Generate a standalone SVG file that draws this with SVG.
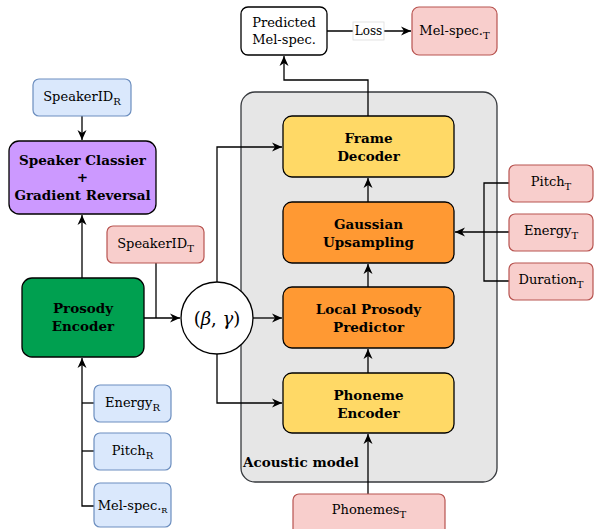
<svg xmlns="http://www.w3.org/2000/svg" width="594" height="529" viewBox="0 0 594 529">
<defs>
<marker id="ah" markerUnits="userSpaceOnUse" markerWidth="11" markerHeight="10" refX="10" refY="5" orient="auto">
<path d="M0,0.5 L10,5 L0,9.5 L3,5 z" fill="#000"/>
</marker>
<style>
.t{font-family:"DejaVu Serif","Liberation Serif",serif;font-size:13px;fill:#000;text-anchor:middle}
.b{font-family:"DejaVu Serif","Liberation Serif",serif;font-size:13.5px;font-weight:bold;fill:#000;text-anchor:middle}
.blue{fill:#dae8fc;stroke:#6c8ebf;stroke-width:1.2}
.red{fill:#f8cecc;stroke:#b85450;stroke-width:1.2}
.nd{stroke:#000;stroke-width:1.3}
.ln{fill:none;stroke:#000;stroke-width:1.3}
.ar{fill:none;stroke:#000;stroke-width:1.3;marker-end:url(#ah)}
</style>
</defs>
<rect width="594" height="529" fill="#fff"/>
<g id="acoustic-model">
<rect x="241" y="92" width="256" height="390" rx="14" fill="#e6e6e6" stroke="#36393d" stroke-width="1.3"/>
<text class="b" x="243" y="467" style="text-anchor:start">Acoustic model</text>
</g>
<g id="connectors">
<path class="ar" d="M368,116 V80 H284 V56"/>
<path class="ar" d="M327,31 H411"/>
<path class="ar" d="M82,116 V140"/>
<path class="ar" d="M82,278 V215"/>
<path class="ar" d="M144,318 H180"/>
<path class="ln" d="M156,263 V318"/>
<path class="ar" d="M253,318 H282"/>
<path class="ar" d="M217,282 V147 H282"/>
<path class="ar" d="M217,354 V403 H282"/>
<path class="ar" d="M368,373 V349"/>
<path class="ar" d="M368,287 V264"/>
<path class="ar" d="M368,202 V178"/>
<path class="ar" d="M368,494 V434"/>
<path class="ar" d="M509,232 H455"/>
<path class="ln" d="M509,183 H484 V281 H509"/>
<path class="ar" d="M94,506 H82 V358"/>
<path class="ln" d="M94,403 H82"/>
<path class="ln" d="M94,451 H82"/>
</g>
<g id="loss-label">
<rect x="353" y="22" width="31" height="18" fill="#fff" stroke="#ddd" stroke-width="0.8"/>
<text class="t" x="368.5" y="35" style="font-size:12px">Loss</text>
</g>
<g id="predicted-mel">
<rect x="241" y="7" width="86" height="48" rx="7" fill="#fff" class="nd"/>
<text class="t" x="284" y="27">Predicted</text>
<text class="t" x="284" y="44">Mel-spec.</text>
</g>
<g id="mel-spec-t">
<rect x="412" y="7" width="85" height="48" rx="7" class="red"/>
<text class="t" x="454.5" y="35">Mel-spec.<tspan font-size="10" dy="3.5">T</tspan></text>
</g>
<g id="speakerid-r">
<rect x="33" y="79" width="98" height="37" rx="6" class="blue"/>
<text class="t" x="82" y="101">SpeakerID<tspan font-size="10" dy="3.5">R</tspan></text>
</g>
<g id="speaker-classifier">
<rect x="9" y="141" width="147" height="73" rx="10" fill="#cc99ff" class="nd"/>
<text class="b" x="82.5" y="165">Speaker Classier</text>
<text class="b" x="82.5" y="182">+</text>
<text class="b" x="82.5" y="200">Gradient Reversal</text>
</g>
<g id="speakerid-t">
<rect x="107" y="226" width="97" height="37" rx="6" class="red"/>
<text class="t" x="155.5" y="248">SpeakerID<tspan font-size="10" dy="3.5">T</tspan></text>
</g>
<g id="prosody-encoder">
<rect x="22" y="278" width="122" height="79" rx="10" fill="#00a050" class="nd"/>
<text class="b" x="83" y="313">Prosody</text>
<text class="b" x="83" y="331">Encoder</text>
</g>
<g id="film">
<circle cx="217" cy="318" r="36" fill="#fff" class="nd"/>
<text x="217" y="325" style="font-family:'DejaVu Serif',serif;font-size:18px;text-anchor:middle">(<tspan font-style="italic">β</tspan>, <tspan font-style="italic">γ</tspan>)</text>
</g>
<g id="frame-decoder">
<rect x="283" y="116" width="171" height="61" rx="9" fill="#ffd966" class="nd"/>
<text class="b" x="368.5" y="143">Frame</text>
<text class="b" x="368.5" y="161">Decoder</text>
</g>
<g id="gaussian-upsampling">
<rect x="283" y="202" width="171" height="61" rx="9" fill="#ff9933" class="nd"/>
<text class="b" x="368.5" y="229">Gaussian</text>
<text class="b" x="368.5" y="247">Upsampling</text>
</g>
<g id="local-prosody-predictor">
<rect x="283" y="287" width="171" height="61" rx="9" fill="#ff9933" class="nd"/>
<text class="b" x="368.5" y="314">Local Prosody</text>
<text class="b" x="368.5" y="332">Predictor</text>
</g>
<g id="phoneme-encoder">
<rect x="283" y="373" width="171" height="60" rx="9" fill="#ffd966" class="nd"/>
<text class="b" x="368.5" y="400">Phoneme</text>
<text class="b" x="368.5" y="418">Encoder</text>
</g>
<g id="pitch-t">
<rect x="509" y="165" width="84" height="37" rx="6" class="red"/>
<text class="t" x="551" y="186">Pitch<tspan font-size="10" dy="3.5">T</tspan></text>
</g>
<g id="energy-t">
<rect x="509" y="214" width="84" height="37" rx="6" class="red"/>
<text class="t" x="551" y="235">Energy<tspan font-size="10" dy="3.5">T</tspan></text>
</g>
<g id="duration-t">
<rect x="509" y="263" width="84" height="37" rx="6" class="red"/>
<text class="t" x="551" y="284">Duration<tspan font-size="10" dy="3.5">T</tspan></text>
</g>
<g id="phonemes-t">
<rect x="293" y="494" width="152" height="42" rx="6" class="red"/>
<text class="t" x="369" y="514">Phonemes<tspan font-size="10" dy="3.5">T</tspan></text>
</g>
<g id="energy-r">
<rect x="94" y="385" width="77" height="37" rx="6" class="blue"/>
<text class="t" x="132.5" y="407">Energy<tspan font-size="10" dy="3.5">R</tspan></text>
</g>
<g id="pitch-r">
<rect x="94" y="433" width="77" height="37" rx="6" class="blue"/>
<text class="t" x="132.5" y="455">Pitch<tspan font-size="10" dy="3.5">R</tspan></text>
</g>
<g id="mel-spec-r">
<rect x="94" y="483" width="77" height="44" rx="6" class="blue"/>
<text class="t" x="132.5" y="510">Mel-spec.<tspan font-size="8" dy="3">R</tspan></text>
</g>
</svg>
